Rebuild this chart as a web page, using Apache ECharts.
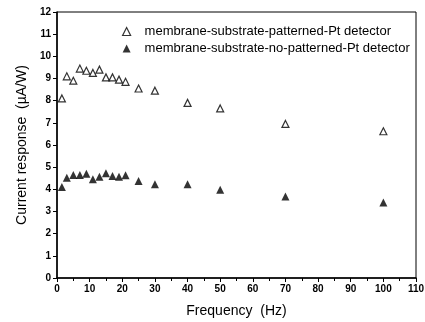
<!DOCTYPE html>
<html><head><meta charset="utf-8">
<script src="https://cdn.jsdelivr.net/npm/echarts@6/dist/echarts.min.js"></script>
<style>html,body{margin:0;padding:0;background:#fff}#c{width:425px;height:322px}</style>
</head><body><div id="c"></div>
<script>
const freqPatterned = [1.5, 3, 5, 7, 9, 11, 13, 15, 17, 19, 21, 25, 30, 40, 50, 70, 100];
const respPatterned = [8.1, 9.1, 8.9, 9.45, 9.35, 9.25, 9.4, 9.05, 9.05, 8.95, 8.85, 8.55, 8.45, 7.9, 7.65, 6.95, 6.62];
const freqNoPatterned = [1.5, 3, 5, 7, 9, 11, 13, 15, 17, 19, 21, 25, 30, 40, 50, 70, 100];
const respNoPatterned = [4.1, 4.52, 4.65, 4.65, 4.7, 4.45, 4.57, 4.72, 4.6, 4.57, 4.63, 4.38, 4.23, 4.23, 3.98, 3.68, 3.41];
const seriesNames = ['membrane-substrate-patterned-Pt detector', 'membrane-substrate-no-patterned-Pt detector'];
const xTitle = 'Frequency  (Hz)';
const yTitle = 'Current response  (\u00b5A/W)';

const chart = echarts.init(document.getElementById('c'));
const font = 'Liberation Sans, Arial, sans-serif';
chart.setOption({
  animation: false,
  grid: {left: 57, right: 9, top: 12, bottom: 44, show: true, borderColor: '#000', borderWidth: 1, outerBoundsMode: 'none', containLabel: false},
  legend: {
    orient: 'vertical', left: 117, top: 20, itemGap: 4, itemWidth: 8, itemHeight: 8,
    textStyle: {fontFamily: font, fontSize: 13, color: '#000', padding: [0,0,0,9]},
    data: [
      {name: seriesNames[0], icon: 'triangle', itemStyle: {color: '#fff', borderColor: '#000', borderWidth: 1.2}},
      {name: seriesNames[1], icon: 'triangle', itemStyle: {color: '#000'}}
    ]
  },
  xAxis: {
    type: 'value', min: 0, max: 110, interval: 10,
    name: xTitle, nameLocation: 'middle', nameGap: 26,
    nameTextStyle: {fontFamily: font, fontSize: 14, color: '#000'},
    axisLine: {onZero: false, lineStyle: {color: '#000', width: 1.5}},
    axisTick: {length: 4, lineStyle: {color: '#000'}},
    minorTick: {show: true, splitNumber: 2, length: 3, lineStyle: {color: '#000'}},
    axisLabel: {fontFamily: font, fontSize: 10, fontWeight: 'bold', color: '#000', margin: 6},
    splitLine: {show: false}
  },
  yAxis: {
    type: 'value', min: 0, max: 12, interval: 1,
    name: yTitle, nameLocation: 'middle', nameGap: 26,
    nameTextStyle: {fontFamily: font, fontSize: 14, color: '#000'},
    axisLine: {onZero: false, lineStyle: {color: '#000', width: 1.5}},
    axisTick: {length: 4, lineStyle: {color: '#000'}},
    axisLabel: {fontFamily: font, fontSize: 10, fontWeight: 'bold', color: '#000', margin: 6},
    splitLine: {show: false}
  },
  series: [
    {name: seriesNames[0], type: 'scatter', symbol: 'triangle', symbolSize: 7,
     itemStyle: {color: '#fff', borderColor: '#000', borderWidth: 1.2},
     data: freqPatterned.map((f, i) => [f, respPatterned[i]])},
    {name: seriesNames[1], type: 'scatter', symbol: 'triangle', symbolSize: 8,
     itemStyle: {color: '#000'},
     data: freqNoPatterned.map((f, i) => [f, respNoPatterned[i]])}
  ]
});
</script></body></html>
